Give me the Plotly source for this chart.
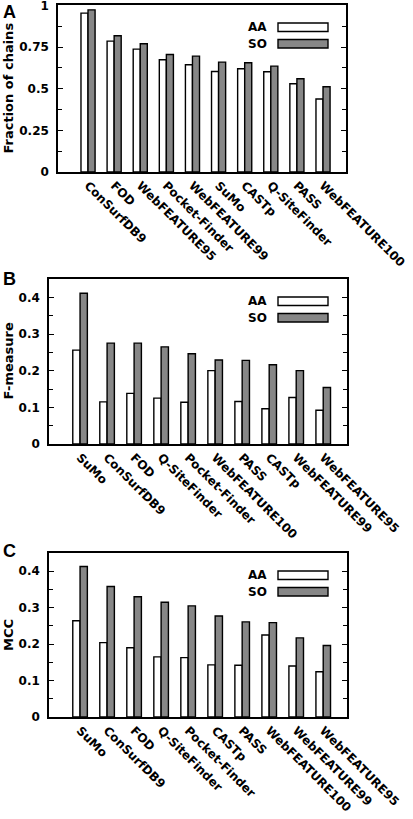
import plotly.graph_objects as go

W, H = 413, 819

# ---- data ----
cats_a = ["ConSurfDB9", "FOD", "WebFEATURE95", "Pocket-Finder", "WebFEATURE99",
          "SuMo", "CASTp", "Q-SiteFinder", "PASS", "WebFEATURE100"]
aa_a = [0.954, 0.786, 0.738, 0.674, 0.644, 0.604, 0.620, 0.602, 0.530, 0.438]
so_a = [0.974, 0.818, 0.770, 0.706, 0.696, 0.660, 0.656, 0.636, 0.560, 0.512]

cats_b = ["SuMo", "ConSurfDB9", "FOD", "Q-SiteFinder", "Pocket-Finder",
          "WebFEATURE100", "PASS", "CASTp", "WebFEATURE99", "WebFEATURE95"]
aa_b = [0.256, 0.115, 0.138, 0.125, 0.114, 0.200, 0.116, 0.096, 0.127, 0.092]
so_b = [0.411, 0.275, 0.275, 0.265, 0.246, 0.229, 0.228, 0.216, 0.200, 0.154]

cats_c = ["SuMo", "ConSurfDB9", "FOD", "Q-SiteFinder", "Pocket-Finder",
          "CASTp", "PASS", "WebFEATURE100", "WebFEATURE99", "WebFEATURE95"]
aa_c = [0.264, 0.204, 0.190, 0.165, 0.163, 0.143, 0.142, 0.225, 0.140, 0.124]
so_c = [0.413, 0.358, 0.330, 0.315, 0.305, 0.277, 0.261, 0.259, 0.217, 0.196]

yticks_a = [0, 0.25, 0.5, 0.75, 1]
yticktext_a = ["0", "0.25", "0.5", "0.75", "1"]
yticks_bc = [0, 0.1, 0.2, 0.3, 0.4]
yticktext_bc = ["0", "0.1", "0.2", "0.3", "0.4"]

series_names = ["AA", "SO"]
ytitles = ["Fraction of chains", "F-measure", "MCC"]
panel_letters = ["A", "B", "C"]

FONT = "DejaVu Sans"
GRAY = "#878787"

def px(x):
    return x / W

def py(y):
    return 1 - y / H

# panel geometry in pixels: (left, right, top, bottom)
geo = [(58, 346, 5, 172), (49, 347, 279, 444), (49, 347, 553, 717)]
yranges = [[0, 1.003], [0, 0.45], [0, 0.45]]
ytv = [(yticks_a, yticktext_a), (yticks_bc, yticktext_bc), (yticks_bc, yticktext_bc)]
minor_dt = [0.125, 0.05, 0.05]
letter_y = [12.5, 279, 551]
panels = [(cats_a, aa_a, so_a), (cats_b, aa_b, so_b), (cats_c, aa_c, so_c)]

fig = go.Figure()
shapes = []
annotations = []

for i, ((cats, aa, so), (l, r, t, b)) in enumerate(zip(panels, geo)):
    n = i + 1
    xa = "x" if n == 1 else f"x{n}"
    ya = "y" if n == 1 else f"y{n}"
    fig.add_trace(go.Bar(x=cats, y=aa, name=series_names[0], xaxis=xa, yaxis=ya,
                         marker=dict(color="white", line=dict(color="black", width=1.4)),
                         showlegend=False, offsetgroup="aa"))
    fig.add_trace(go.Bar(x=cats, y=so, name=series_names[1], xaxis=xa, yaxis=ya,
                         marker=dict(color=GRAY, line=dict(color="black", width=1.4)),
                         showlegend=False, offsetgroup="so"))
    xkey = "xaxis" if n == 1 else f"xaxis{n}"
    ykey = "yaxis" if n == 1 else f"yaxis{n}"
    fig.layout[xkey] = dict(
        domain=[px(l), px(r)], anchor=ya, type="category", automargin=False,
        range=[-1.15, 9.88],
        showline=True, linecolor="black", linewidth=1.5, mirror=True,
        ticks="", tickangle=45, showgrid=False,
        tickfont=dict(family=FONT, size=12, color="black", weight="bold"),
    )
    fig.layout[ykey] = dict(
        domain=[py(b), py(t)], anchor=xa, range=yranges[i],
        tickmode="array", tickvals=ytv[i][0], ticktext=ytv[i][1],
        automargin=False, ticklabeloverflow="allow",
        showline=True, linecolor="black", linewidth=1.5, mirror="ticks",
        ticks="inside", ticklen=5, tickwidth=1.2, tickcolor="black",
        minor=dict(ticks="inside", ticklen=4, tickwidth=1.2, tickcolor="black",
                   dtick=minor_dt[i], tick0=0, showgrid=False),
        showgrid=False, zeroline=False, ticklabelstandoff=5,
        tickfont=dict(family=FONT, size=12, color="black", weight="bold"),
    )
    # y title
    annotations.append(dict(
        x=px(8), y=py((t + b) / 2), xref="paper", yref="paper",
        text=ytitles[i], textangle=-90, showarrow=False,
        font=dict(family=FONT, size=13, color="black", weight="bold"),
        xanchor="center", yanchor="middle"))
    # panel letter
    annotations.append(dict(
        x=px(1), y=py(letter_y[i]), xref="paper", yref="paper",
        text=panel_letters[i], showarrow=False,
        font=dict(family="Liberation Sans", size=18, color="black", weight="bold"),
        xanchor="left", yanchor="middle"))
    # legend
    for j, (name, fill) in enumerate(zip(series_names, ["white", GRAY])):
        y0 = t + 18 + j * 16.5
        y1 = y0 + 8.5
        shapes.append(dict(type="rect", xref="paper", yref="paper",
                           x0=px(278), x1=px(328), y0=py(y1), y1=py(y0),
                           fillcolor=fill, line=dict(color="black", width=1.4)))
        annotations.append(dict(
            x=px(269), y=py((y0 + y1) / 2), xref="paper", yref="paper",
            text=name, showarrow=False, xanchor="right", yanchor="middle",
            font=dict(family=FONT, size=12, color="black", weight="bold")))

fig.update_layout(
    width=W, height=H, margin=dict(l=0, r=0, t=0, b=0, autoexpand=False),
    paper_bgcolor="white", plot_bgcolor="white",
    barmode="group", bargap=0.46, bargroupgap=0,
    shapes=shapes, annotations=annotations, showlegend=False,
)

fig.write_html("out.html", config={"displayModeBar": False},
               post_script="document.body.style.margin='0';document.body.style.padding='0';document.body.style.overflow='hidden';")
